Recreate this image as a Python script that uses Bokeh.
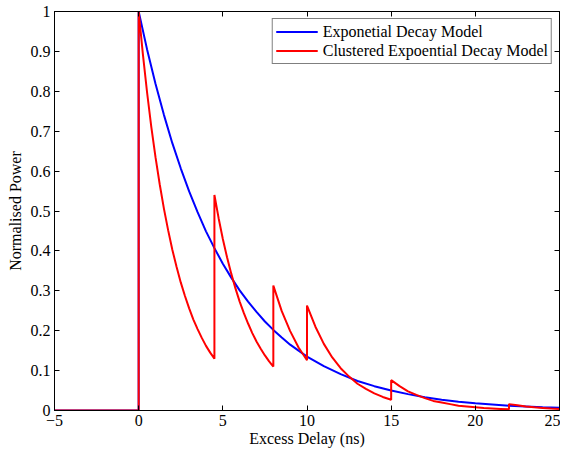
import numpy as np
from bokeh.plotting import figure
from bokeh.models import Range1d, LinearAxis, FixedTicker, Legend, LegendItem
from bokeh.embed import file_html
from bokeh.resources import INLINE

# ---- data ----
# Exponential decay model (blue)
exp_t = [-5, 0, 0, 0.5, 1, 1.5, 2, 2.5, 3, 3.5, 4, 4.5, 5, 5.5, 6, 6.5, 7, 7.5, 8, 8.5, 9, 9.5, 10,
         11, 12, 13, 14, 15, 16, 17, 18, 19, 20, 21, 22, 23, 24, 25]
exp_p = [0, 0, 1.000, 0.905, 0.819, 0.741, 0.670, 0.607, 0.549, 0.497, 0.449, 0.407, 0.368, 0.333,
         0.301, 0.273, 0.247, 0.223, 0.202, 0.183, 0.165, 0.150, 0.135,
         0.111, 0.091, 0.074, 0.061, 0.050, 0.041, 0.033, 0.027, 0.022, 0.018, 0.015, 0.012,
         0.010, 0.008, 0.007]

# Clustered exponential decay model (red): cluster arrival times and sampled powers
cluster_start = [0, 4.5, 8, 10, 15, 22]
cluster_end = [4.5, 8, 10, 15, 22, 25]
cluster_p = [
    [1.000, 0.893, 0.797, 0.711, 0.635, 0.567, 0.506, 0.452, 0.403, 0.360, 0.321, 0.287,
     0.256, 0.228, 0.204, 0.182, 0.162, 0.145, 0.130],
    [0.540, 0.482, 0.430, 0.384, 0.343, 0.306, 0.273, 0.244, 0.218, 0.194, 0.173, 0.155,
     0.138, 0.123, 0.110],
    [0.313, 0.249, 0.199, 0.158, 0.126],
    [0.263, 0.210, 0.167, 0.133, 0.106, 0.085, 0.067, 0.054, 0.043, 0.034, 0.027],
    [0.076, 0.061, 0.048, 0.039, 0.031, 0.024, 0.020, 0.016, 0.012, 0.010, 0.008, 0.006,
     0.005, 0.004, 0.003],
    [0.016, 0.013, 0.010, 0.008, 0.0065, 0.005, 0.004],
]
pre_t = [-5, 0]
pre_p = [0, 0]

x_ticks = [-5, 0, 5, 10, 15, 20, 25]
x_tick_labels = ["\u22125", "0", "5", "10", "15", "20", "25"]
y_ticks = [0, 0.1, 0.2, 0.3, 0.4, 0.5, 0.6, 0.7, 0.8, 0.9, 1]
y_tick_labels = ["0", "0.1", "0.2", "0.3", "0.4", "0.5", "0.6", "0.7", "0.8", "0.9", "1"]

series_names = ["Exponetial Decay Model", "Clustered Expoential Decay Model"]

# build red series (samples evenly spaced within each cluster)
clu_t = list(pre_t)
clu_p = list(pre_p)
for s, e, vals in zip(cluster_start, cluster_end, cluster_p):
    ts = np.linspace(s, e, len(vals))
    clu_t += list(ts)
    clu_p += list(vals)

FONT = "'Liberation Serif', 'Times New Roman', serif"
FS = "16px"

p = figure(frame_width=505, frame_height=399, output_backend="svg", toolbar_location=None,
           x_range=Range1d(-5, 25), y_range=Range1d(0, 1),
           min_border_left=54, min_border_top=11, min_border_right=1, min_border_bottom=30)
p.background_fill_color = "white"
p.border_fill_color = "white"
p.outline_line_color = "black"
p.outline_line_width = 1
p.grid.visible = False

r_blue = p.line(exp_t, exp_p, line_color="#0000ff", line_width=2)
r_red = p.line(clu_t, clu_p, line_color="#ff0000", line_width=2)

def style_axis(ax, ticks, labels, show_labels=True):
    ax.ticker = FixedTicker(ticks=ticks)
    ax.major_tick_in = 5
    ax.major_tick_out = 0
    ax.minor_tick_in = 0
    ax.minor_tick_out = 0
    ax.axis_line_color = "black"
    ax.major_tick_line_color = "black"
    ax.major_label_text_font = FONT
    ax.major_label_text_font_size = FS
    ax.major_label_text_color = "black"
    ax.axis_label_text_font = FONT
    ax.axis_label_text_font_size = FS
    ax.axis_label_text_font_style = "normal"
    ax.axis_label_text_color = "black"
    if show_labels:
        ax.major_label_overrides = {t: l for t, l in zip(ticks, labels)}
    else:
        ax.major_label_overrides = {t: "" for t in ticks}
        ax.major_label_text_font_size = "1px"
        ax.major_label_standoff = 0

style_axis(p.xaxis[0], x_ticks, x_tick_labels)
p.xaxis[0].axis_label = "Excess Delay (ns)"
p.xaxis[0].axis_label_standoff = 1
p.xaxis[0].major_label_standoff = 4
style_axis(p.yaxis[0], y_ticks, y_tick_labels)
p.yaxis[0].axis_label = "Normalised Power"
p.yaxis[0].axis_label_standoff = 4
p.yaxis[0].major_label_standoff = 4

top = LinearAxis()
style_axis(top, x_ticks, x_tick_labels, show_labels=False)
p.add_layout(top, "above")
right = LinearAxis()
style_axis(right, y_ticks, y_tick_labels, show_labels=False)
p.add_layout(right, "right")

legend = Legend(items=[LegendItem(label=series_names[0], renderers=[r_blue]),
                       LegendItem(label=series_names[1], renderers=[r_red])],
                location="top_right")
legend.label_text_font = FONT
legend.label_text_font_size = FS
legend.label_text_color = "black"
legend.glyph_width = 42
legend.glyph_height = 19
legend.label_height = 19
legend.label_standoff = 5
legend.padding = 3
legend.spacing = 0
legend.margin = 7
legend.border_line_color = "black"
legend.border_line_width = 1
legend.background_fill_alpha = 1
p.add_layout(legend, "center")

open("out.html", "w").write(file_html(p, INLINE))
